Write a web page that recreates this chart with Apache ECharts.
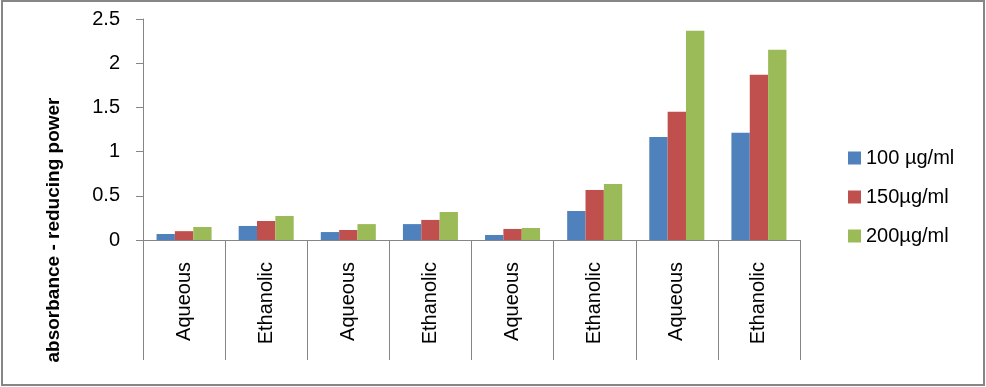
<!DOCTYPE html>
<html><head><meta charset="utf-8">
<script src="https://cdn.jsdelivr.net/npm/echarts@6/dist/echarts.min.js"></script>
<style>html,body{margin:0;padding:0;background:#fff}#c{width:986px;height:387px}</style>
</head><body><div id="c"></div>
<script>
var categories = ['Aqueous','Ethanolic','Aqueous','Ethanolic','Aqueous','Ethanolic','Aqueous','Ethanolic'];
var seriesNames = ['100 µg/ml','150µg/ml','200µg/ml'];
var s100 = [0.068, 0.159, 0.09, 0.18, 0.057, 0.328, 1.166, 1.212];
var s150 = [0.10, 0.215, 0.113, 0.227, 0.125, 0.566, 1.45, 1.869];
var s200 = [0.147, 0.272, 0.18, 0.317, 0.136, 0.634, 2.367, 2.152];
var yTicks = {min: 0, max: 2.5, interval: 0.5};
var yTitle = 'absorbance - reducing power';

var axisColor = '#868686';
var font = 'Liberation Sans';
var chart = echarts.init(document.getElementById('c'));
chart.setOption({
  animation: false,
  backgroundColor: '#fff',
  grid: {left: 143, right: 186, top: 19, bottom: 147},
  legend: {
    orient: 'vertical', left: 843, top: 143,
    itemWidth: 13, itemHeight: 13, itemGap: 19,
    icon: 'rect',
    textStyle: {fontFamily: font, fontSize: 20, color: '#000'},
    data: seriesNames
  },
  xAxis: {
    type: 'category', data: categories,
    axisLine: {lineStyle: {color: axisColor, width: 1}},
    axisTick: {show: true, interval: 0, length: 120, lineStyle: {color: axisColor}},
    axisLabel: {interval: 0, rotate: 90, margin: 22, fontFamily: font, fontSize: 20, color: '#000'}
  },
  yAxis: {
    type: 'value', min: yTicks.min, max: yTicks.max, interval: yTicks.interval,
    splitLine: {show: false},
    axisLine: {show: true, lineStyle: {color: axisColor, width: 1}},
    axisTick: {show: true, length: 7, lineStyle: {color: axisColor}},
    axisLabel: {margin: 23, fontFamily: font, fontSize: 20, color: '#000'}
  },
  graphic: [
    {type: 'rect', shape: {x: 2, y: 1, width: 982, height: 384}, style: {fill: 'none', stroke: axisColor, lineWidth: 2}, z: 100},
    {type: 'text', x: 54, y: 230, rotation: Math.PI/2,
     style: {text: yTitle, font: 'bold 19px "Liberation Sans"', fill: '#000', textAlign: 'center', textVerticalAlign: 'middle'}}
  ],
  series: [
    {name: seriesNames[0], type: 'bar', data: s100, itemStyle: {color: '#4F81BD'}, barGap: 0, barCategoryGap: '33%'},
    {name: seriesNames[1], type: 'bar', data: s150, itemStyle: {color: '#C0504D'}, barGap: 0, barCategoryGap: '33%'},
    {name: seriesNames[2], type: 'bar', data: s200, itemStyle: {color: '#9BBB59'}, barGap: 0, barCategoryGap: '33%'}
  ]
});
</script></body></html>
